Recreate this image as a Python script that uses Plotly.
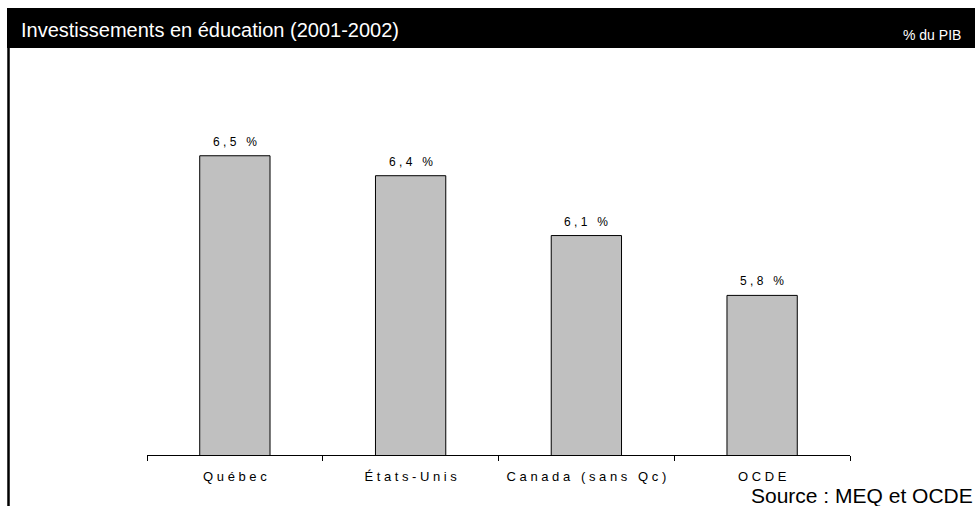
import plotly.graph_objects as go

# Données : dépenses d'éducation en % du PIB (2001-2002)
categories = ["Québec", "États-Unis", "Canada (sans Qc)", "OCDE"]
values = [6.5, 6.4, 6.1, 5.8]

W, H = 975, 506
M_L, M_R, M_T, M_B = 147, 125, 60, 51
PW, PH = W - M_L - M_R, H - M_T - M_B

BODY_FONT = "Liberation Sans, Arial, Helvetica, sans-serif"


def spaced(text):
    """Letter-spaced rendering: a non-breaking space between every character."""
    return "\u00a0".join(text)


def fr_pct(v):
    return spaced(f"{v:.1f}".replace(".", ",") + " %")


def px_x(px):
    return (px - M_L) / PW


def px_y(py):
    return (H - M_B - py) / PH


x_labels = [spaced(c) for c in categories]

fig = go.Figure(
    go.Bar(
        x=x_labels,
        y=values,
        marker=dict(color="#c0c0c0", line=dict(color="#000000", width=1)),
        width=0.4,
        hoverinfo="skip",
    )
)

fig.update_xaxes(
    type="category",
    range=[-0.5, len(categories) - 0.5],
    showline=True,
    linecolor="#000000",
    linewidth=1,
    ticks="outside",
    tickson="boundaries",
    ticklen=5,
    tickcolor="#000000",
    tickwidth=1,
    ticklabelstandoff=9,
    tickfont=dict(family=BODY_FONT, size=13, color="#000000"),
    showgrid=False,
    zeroline=False,
    fixedrange=True,
)
fig.update_yaxes(
    range=[5.0, 6.98],
    visible=False,
    showgrid=False,
    zeroline=False,
    fixedrange=True,
)

shapes = [
    # bandeau noir du titre
    dict(type="rect", xref="paper", yref="paper",
         x0=px_x(7), x1=px_x(975), y0=px_y(48), y1=px_y(8),
         fillcolor="#000000", line=dict(width=0), layer="below"),
    # filet vertical à gauche
    dict(type="line", xref="paper", yref="paper",
         x0=px_x(8.5), x1=px_x(8.5), y0=px_y(48), y1=px_y(506),
         line=dict(color="#000000", width=2.5)),
]

# étiquettes de valeur au-dessus des barres
annotations = [
    dict(text=fr_pct(v), x=xl, y=v, xref="x", yref="y",
         xanchor="center", yanchor="bottom", yshift=5, showarrow=False,
         font=dict(family=BODY_FONT, size=12, color="#000000"))
    for xl, v in zip(x_labels, values)
]

annotations += [
    dict(text="Investissements en éducation (2001-2002)",
         xref="paper", yref="paper", x=px_x(19), y=px_y(29.5),
         xanchor="left", yanchor="middle", showarrow=False,
         font=dict(family=BODY_FONT, size=20, color="#ffffff")),
    dict(text="% du PIB",
         xref="paper", yref="paper", x=px_x(963), y=px_y(35),
         xanchor="right", yanchor="middle", showarrow=False,
         font=dict(family=BODY_FONT, size=14, color="#ffffff")),
    dict(text="Source : MEQ et OCDE",
         xref="paper", yref="paper", x=px_x(975), y=px_y(495),
         xanchor="right", yanchor="middle", showarrow=False,
         font=dict(family=BODY_FONT, size=21, color="#000000")),
]

fig.update_layout(
    width=W,
    height=H,
    autosize=False,
    margin=dict(l=M_L, r=M_R, t=M_T, b=M_B, pad=0),
    paper_bgcolor="#ffffff",
    plot_bgcolor="#ffffff",
    showlegend=False,
    shapes=shapes,
    annotations=annotations,
    bargap=0.6,
)

fig.write_html("out.html", config={"displayModeBar": False})
